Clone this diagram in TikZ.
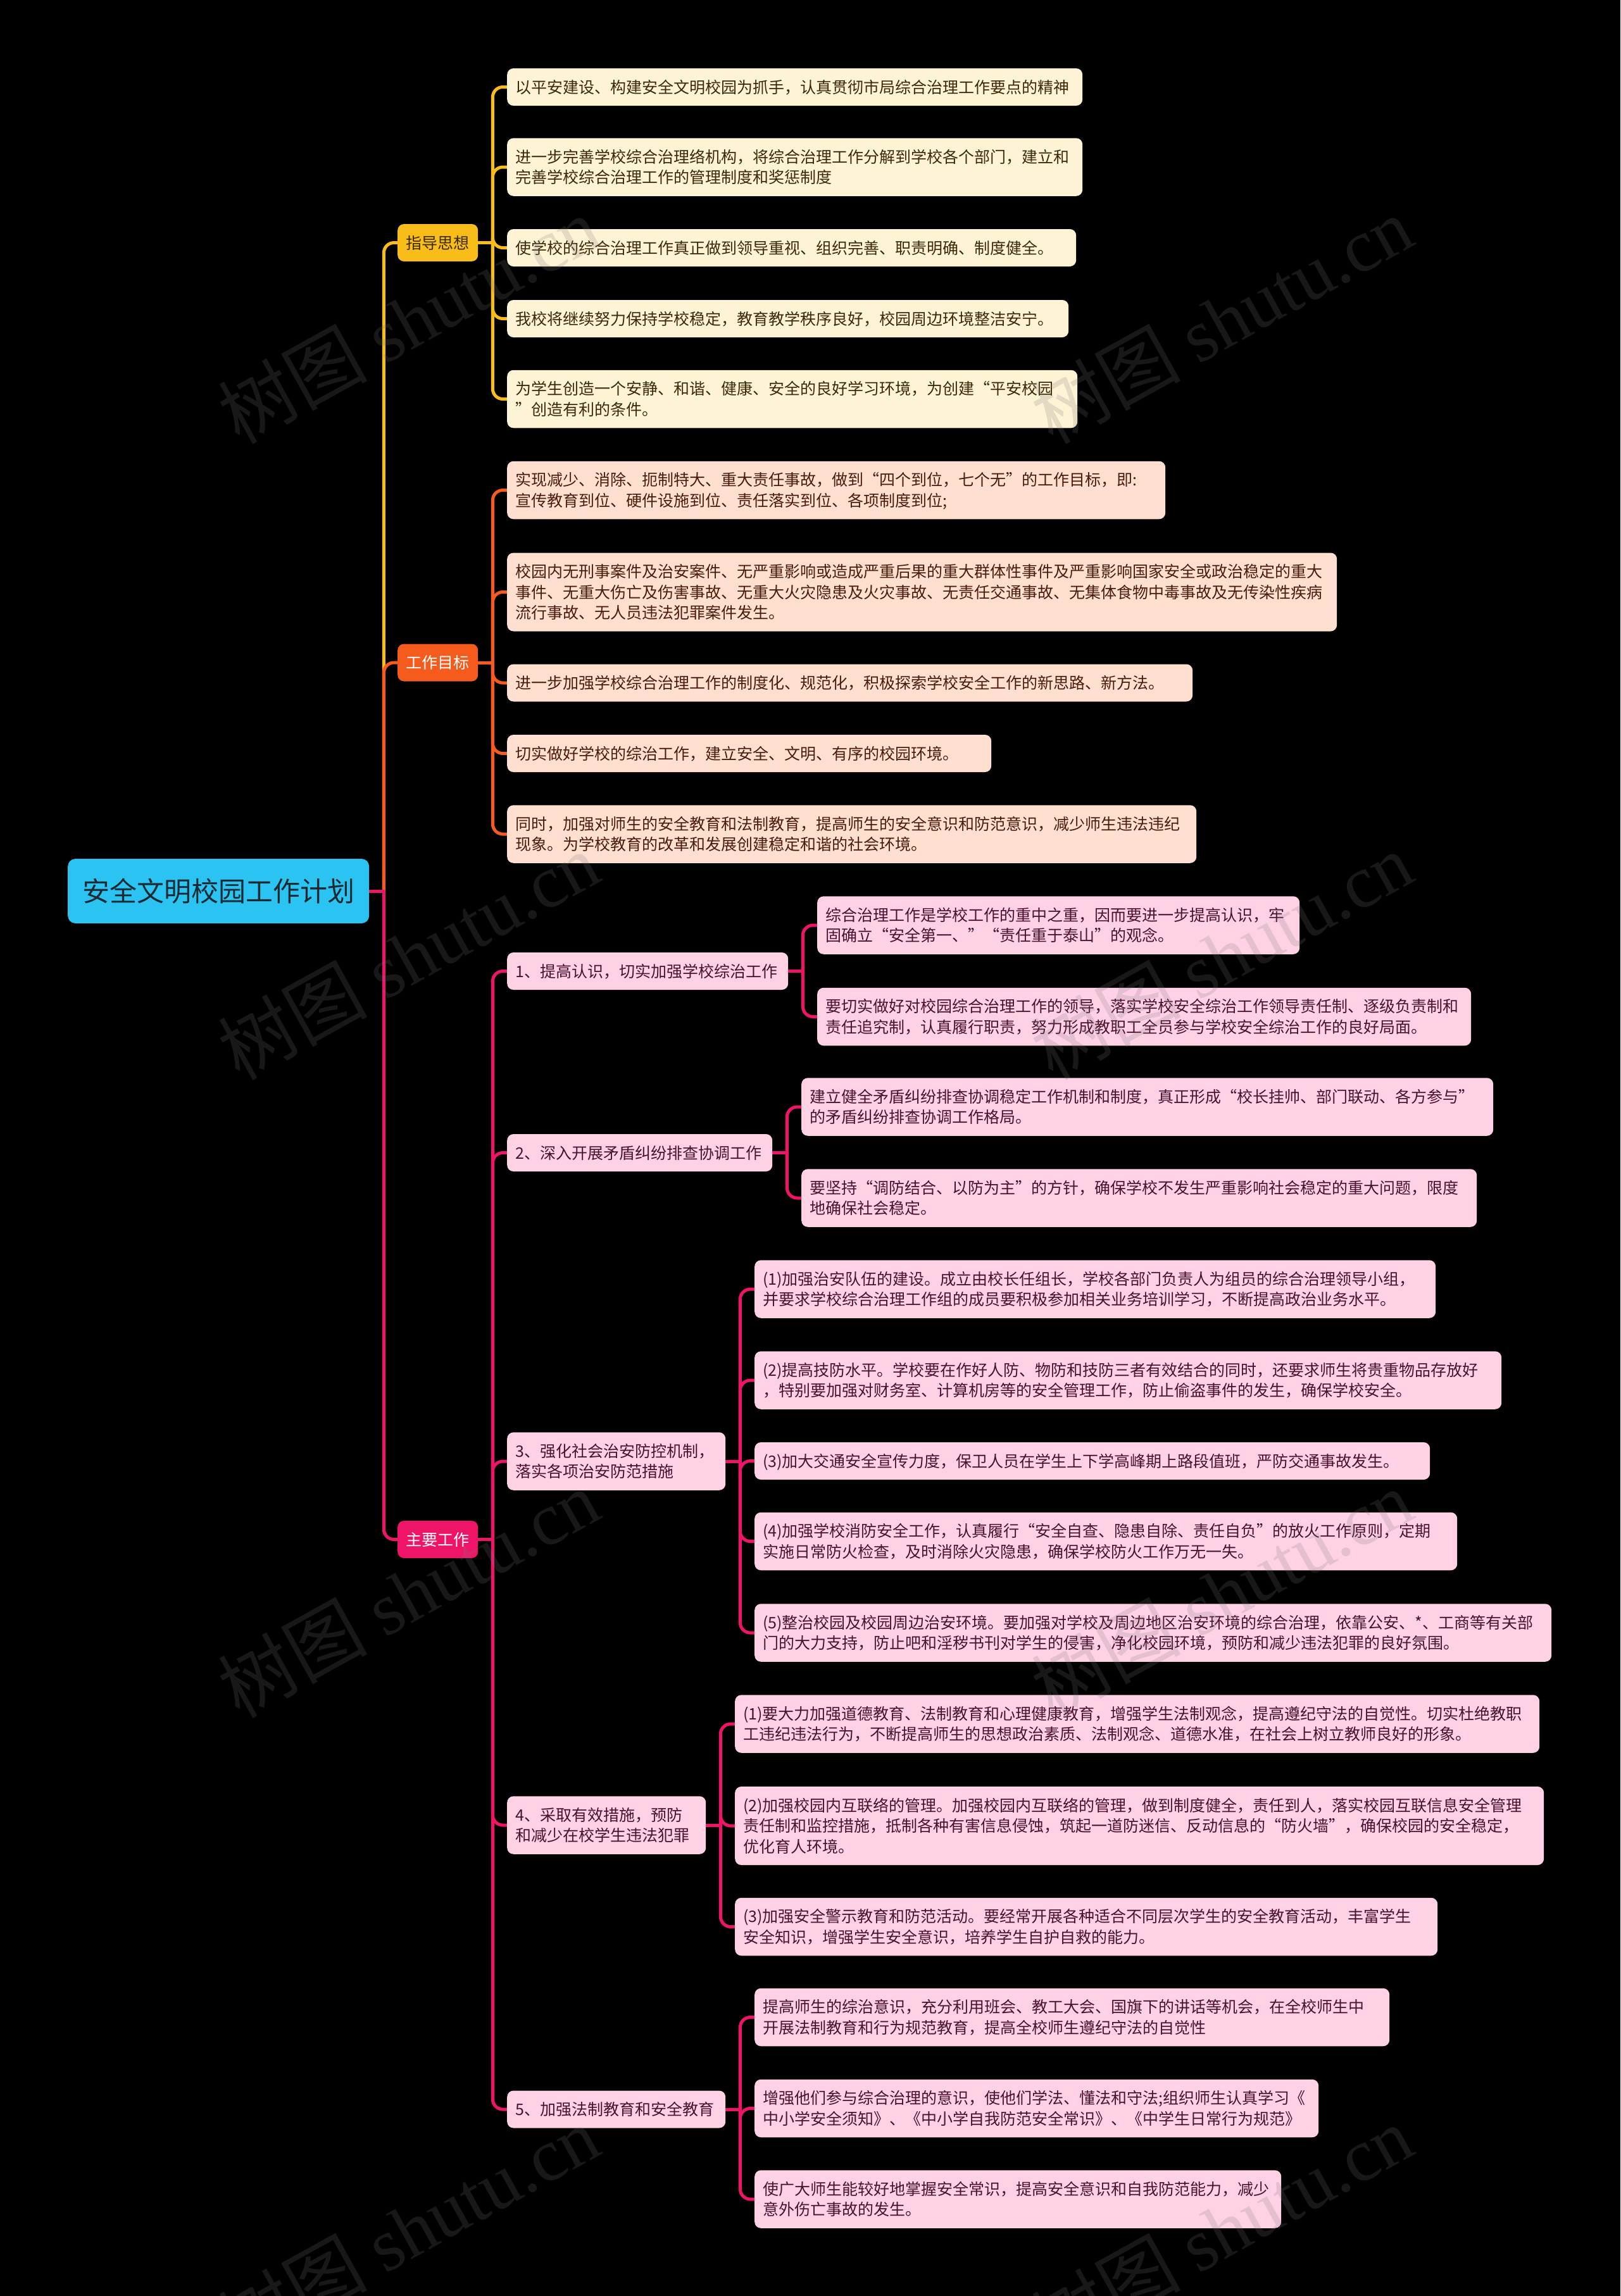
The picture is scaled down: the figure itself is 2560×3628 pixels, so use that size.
\documentclass[tikz,border=0pt]{standalone}
\usepackage{fontspec}
\setmainfont{Noto Sans CJK SC}
\newfontfamily\wmlat{Liberation Serif}
\pgfdeclarelayer{bg}
\pgfsetlayers{bg,main}
\definecolor{rootfill}{HTML}{2BC3F1}
\definecolor{roottext}{HTML}{1E2A33}
\definecolor{yl}{HTML}{F8BD19}
\definecolor{ylfill}{HTML}{FFF3D6}
\definecolor{yltext}{HTML}{3B2A05}
\definecolor{orx}{HTML}{F55B1C}
\definecolor{orfill}{HTML}{FFDFD0}
\definecolor{ortext}{HTML}{4A1C0C}
\definecolor{pk}{HTML}{EE1568}
\definecolor{pkfill}{HTML}{FFD1E5}
\definecolor{pktext}{HTML}{4A1230}
\definecolor{wmgray}{HTML}{787878}
\newcommand\mystr{\rule[-6.75pt]{0pt}{32.5pt}}
\newcommand\bigstr{\rule[-11.7pt]{0pt}{56pt}}
\newcommand\linkto[3]{\draw[conn,#1] (#2) |- (#3.west);}
\begin{document}
\begin{tikzpicture}[x=1pt,y=-1pt,
  rootbox/.style={anchor=west, fill=rootfill, text=roottext, rounded corners=12pt,
    inner xsep=23pt, inner ysep=23pt, font=\fontsize{43}{56}\selectfont},
  lone/.style={anchor=west, rounded corners=10pt, inner xsep=13.5pt, inner ysep=13.25pt,
    font=\fontsize{25}{32.5}\selectfont},
  txt/.style={anchor=west, rounded corners=10pt, inner xsep=13pt, inner ysep=13.25pt,
    align=left, font=\fontsize{25}{32.5}\selectfont},
  ytxt/.style={txt, fill=ylfill, text=yltext},
  otxt/.style={txt, fill=orfill, text=ortext},
  ptxt/.style={txt, fill=pkfill, text=pktext},
  conn/.style={line width=5pt, rounded corners=16pt, line cap=round},
  wm/.style={rotate=29, text=wmgray, text opacity=0.2, font=\fontsize{118}{118}\selectfont}
]
\useasboundingbox (0,0) rectangle (2560,3628);
\begin{pgfonlayer}{bg}
\fill[black] (0,0) rectangle (2560,3628);
\end{pgfonlayer}

% root and level 1
\node[rootbox] (root) at (107,1408) {\bigstr 安全文明校园工作计划};
\node[lone, fill=yl, text=yltext] (g1) at (628,383.5) {\mystr 指导思想};
\node[lone, fill=orx, text=white] (g2) at (628,1047) {\mystr 工作目标};
\node[lone, fill=pk, text=white] (g3) at (628,2432.5) {\mystr 主要工作};

% 指导思想
\node[ytxt, text width=883pt] (y1) at (801,137.5) {\mystr 以平安建设、构建安全文明校园为抓手，认真贯彻市局综合治理工作要点的精神\mystr};
\node[ytxt, text width=883pt] (y2) at (801,264) {\mystr 进一步完善学校综合治理络机构，将综合治理工作分解到学校各个部门，建立和\\完善学校综合治理工作的管理制度和奖惩制度\mystr};
\node[ytxt, text width=873pt] (y3) at (801,391.5) {\mystr 使学校的综合治理工作真正做到领导重视、组织完善、职责明确、制度健全。\mystr};
\node[ytxt, text width=861pt] (y4) at (801,503.5) {\mystr 我校将继续努力保持学校稳定，教育教学秩序良好，校园周边环境整洁安宁。\mystr};
\node[ytxt, text width=875pt] (y5) at (801,630.5) {\mystr 为学生创造一个安静、和谐、健康、安全的良好学习环境，为创建“平安校园\\”创造有利的条件。\mystr};

% 工作目标
\node[otxt, text width=1014pt] (o1) at (801,774.5) {\mystr 实现减少、消除、扼制特大、重大责任事故，做到“四个到位，七个无”的工作目标，即:\\宣传教育到位、硬件设施到位、责任落实到位、各项制度到位;\mystr};
\node[otxt, text width=1285pt] (o2) at (801,935.5) {\mystr 校园内无刑事案件及治安案件、无严重影响或造成严重后果的重大群体性事件及严重影响国家安全或政治稳定的重大\\事件、无重大伤亡及伤害事故、无重大火灾隐患及火灾事故、无责任交通事故、无集体食物中毒事故及无传染性疾病\\流行事故、无人员违法犯罪案件发生。\mystr};
\node[otxt, text width=1057pt] (o3) at (801,1079) {\mystr 进一步加强学校综合治理工作的制度化、规范化，积极探索学校安全工作的新思路、新方法。\mystr};
\node[otxt, text width=739pt] (o4) at (801,1190.5) {\mystr 切实做好学校的综治工作，建立安全、文明、有序的校园环境。\mystr};
\node[otxt, text width=1063pt] (o5) at (801,1318) {\mystr 同时，加强对师生的安全教育和法制教育，提高师生的安全意识和防范意识，减少师生违法违纪\\现象。为学校教育的改革和发展创建稳定和谐的社会环境。\mystr};

% 主要工作 level 2
\node[ptxt, text width=418pt] (p1) at (801,1534.5) {\mystr 1、提高认识，切实加强学校综治工作\mystr};
\node[ptxt, text width=393pt] (p2) at (801,1821.5) {\mystr 2、深入开展矛盾纠纷排查协调工作\mystr};
\node[ptxt, text width=319pt] (p3) at (801,2309) {\mystr 3、强化社会治安防控机制，\\落实各项治安防范措施\mystr};
\node[ptxt, text width=288pt] (p4) at (801,2884) {\mystr 4、采取有效措施，预防\\和减少在校学生违法犯罪\mystr};
\node[ptxt, text width=319pt] (p5) at (801,3333) {\mystr 5、加强法制教育和安全教育\mystr};

% level 3
\node[ptxt, text width=736pt] (q11) at (1291,1462) {\mystr 综合治理工作是学校工作的重中之重，因而要进一步提高认识，牢\\固确立“安全第一、”“责任重于泰山”的观念。\mystr};
\node[ptxt, text width=1007pt] (q12) at (1291,1606.5) {\mystr 要切实做好对校园综合治理工作的领导，落实学校安全综治工作领导责任制、逐级负责制和\\责任追究制，认真履行职责，努力形成教职工全员参与学校安全综治工作的良好局面。\mystr};
\node[ptxt, text width=1067pt] (q21) at (1266,1749) {\mystr 建立健全矛盾纠纷排查协调稳定工作机制和制度，真正形成“校长挂帅、部门联动、各方参与”\\的矛盾纠纷排查协调工作格局。\mystr};
\node[ptxt, text width=1041pt] (q22) at (1266,1893) {\mystr 要坚持“调防结合、以防为主”的方针，确保学校不发生严重影响社会稳定的重大问题，限度\\地确保社会稳定。\mystr};
\node[ptxt, text width=1050pt] (q31) at (1192,2037) {\mystr (1)加强治安队伍的建设。成立由校长任组长，学校各部门负责人为组员的综合治理领导小组，\\并要求学校综合治理工作组的成员要积极参加相关业务培训学习，不断提高政治业务水平。\mystr};
\node[ptxt, text width=1154pt] (q32) at (1192,2181) {\mystr (2)提高技防水平。学校要在作好人防、物防和技防三者有效结合的同时，还要求师生将贵重物品存放好\\，特别要加强对财务室、计算机房等的安全管理工作，防止偷盗事件的发生，确保学校安全。\mystr};
\node[ptxt, text width=1041pt] (q33) at (1192,2308.5) {\mystr (3)加大交通安全宣传力度，保卫人员在学生上下学高峰期上路段值班，严防交通事故发生。\mystr};
\node[ptxt, text width=1084pt] (q34) at (1192,2435.5) {\mystr (4)加强学校消防安全工作，认真履行“安全自查、隐患自除、责任自负”的放火工作原则，定期\\实施日常防火检查，及时消除火灾隐患，确保学校防火工作万无一失。\mystr};
\node[ptxt, text width=1233pt] (q35) at (1192,2580) {\mystr (5)整治校园及校园周边治安环境。要加强对学校及周边地区治安环境的综合治理，依靠公安、*、工商等有关部\\门的大力支持，防止吧和淫秽书刊对学生的侵害，净化校园环境，预防和减少违法犯罪的良好氛围。\mystr};
\node[ptxt, text width=1245pt] (q41) at (1161,2724) {\mystr (1)要大力加强道德教育、法制教育和心理健康教育，增强学生法制观念，提高遵纪守法的自觉性。切实杜绝教职\\工违纪违法行为，不断提高师生的思想政治素质、法制观念、道德水准，在社会上树立教师良好的形象。\mystr};
\node[ptxt, text width=1252pt] (q42) at (1161,2885) {\mystr (2)加强校园内互联络的管理。加强校园内互联络的管理，做到制度健全，责任到人，落实校园互联信息安全管理\\责任制和监控措施，抵制各种有害信息侵蚀，筑起一道防迷信、反动信息的“防火墙”，确保校园的安全稳定，\\优化育人环境。\mystr};
\node[ptxt, text width=1084pt] (q43) at (1161,3044.5) {\mystr (3)加强安全警示教育和防范活动。要经常开展各种适合不同层次学生的安全教育活动，丰富学生\\安全知识，增强学生安全意识，培养学生自护自救的能力。\mystr};
\node[ptxt, text width=977pt] (q51) at (1192,3187.5) {\mystr 提高师生的综治意识，充分利用班会、教工大会、国旗下的讲话等机会，在全校师生中\\开展法制教育和行为规范教育，提高全校师生遵纪守法的自觉性\mystr};
\node[ptxt, text width=865pt] (q52) at (1192,3331.5) {\mystr 增强他们参与综合治理的意识，使他们学法、懂法和守法;组织师生认真学习《\\中小学安全须知》、《中小学自我防范安全常识》、《中学生日常行为规范》\mystr};
\node[ptxt, text width=806pt] (q53) at (1192,3475) {\mystr 使广大师生能较好地掌握安全常识，提高安全意识和自我防范能力，减少\\意外伤亡事故的发生。\mystr};

% junctions
\path (root.east) ++(23,0) coordinate (j0);
\path (g1.east) ++(23,0) coordinate (jg1);
\path (g2.east) ++(23,0) coordinate (jg2);
\path (g3.east) ++(23,0) coordinate (jg3);
\path (p1.east) ++(23,0) coordinate (jp1);
\path (p2.east) ++(23,0) coordinate (jp2);
\path (p3.east) ++(23,0) coordinate (jp3);
\path (p4.east) ++(23,0) coordinate (jp4);
\path (p5.east) ++(23,0) coordinate (jp5);

\begin{pgfonlayer}{bg}
\linkto{yl}{j0}{g1}
\linkto{orx}{j0}{g2}
\linkto{pk}{j0}{g3}
\draw[conn,pk] (root.east) -- (j0);
% yellow
\draw[conn,yl] (g1.east) -- (jg1);
\linkto{yl}{jg1}{y1}\linkto{yl}{jg1}{y2}\linkto{yl}{jg1}{y3}\linkto{yl}{jg1}{y4}\linkto{yl}{jg1}{y5}
% orange
\draw[conn,orx] (g2.east) -- (jg2);
\linkto{orx}{jg2}{o1}\linkto{orx}{jg2}{o2}\linkto{orx}{jg2}{o3}\linkto{orx}{jg2}{o4}\linkto{orx}{jg2}{o5}
% pink
\draw[conn,pk] (g3.east) -- (jg3);
\linkto{pk}{jg3}{p1}\linkto{pk}{jg3}{p2}\linkto{pk}{jg3}{p3}\linkto{pk}{jg3}{p4}\linkto{pk}{jg3}{p5}
\draw[conn,pk] (p1.east) -- (jp1);
\linkto{pk}{jp1}{q11}\linkto{pk}{jp1}{q12}
\draw[conn,pk] (p2.east) -- (jp2);
\linkto{pk}{jp2}{q21}\linkto{pk}{jp2}{q22}
\draw[conn,pk] (p3.east) -- (jp3);
\linkto{pk}{jp3}{q31}\linkto{pk}{jp3}{q32}\linkto{pk}{jp3}{q33}\linkto{pk}{jp3}{q34}\linkto{pk}{jp3}{q35}
\draw[conn,pk] (p4.east) -- (jp4);
\linkto{pk}{jp4}{q41}\linkto{pk}{jp4}{q42}\linkto{pk}{jp4}{q43}
\draw[conn,pk] (p5.east) -- (jp5);
\linkto{pk}{jp5}{q51}\linkto{pk}{jp5}{q52}\linkto{pk}{jp5}{q53}
\end{pgfonlayer}

% watermark
\foreach \wx in {645,1930}{
  \foreach \wy in {505,1510,2517,3522}{
    \node[wm] (wm-\wx-\wy) at (\wx,\wy) {树图 {\wmlat shutu.cn}};
  }
}
\end{tikzpicture}
\end{document}
